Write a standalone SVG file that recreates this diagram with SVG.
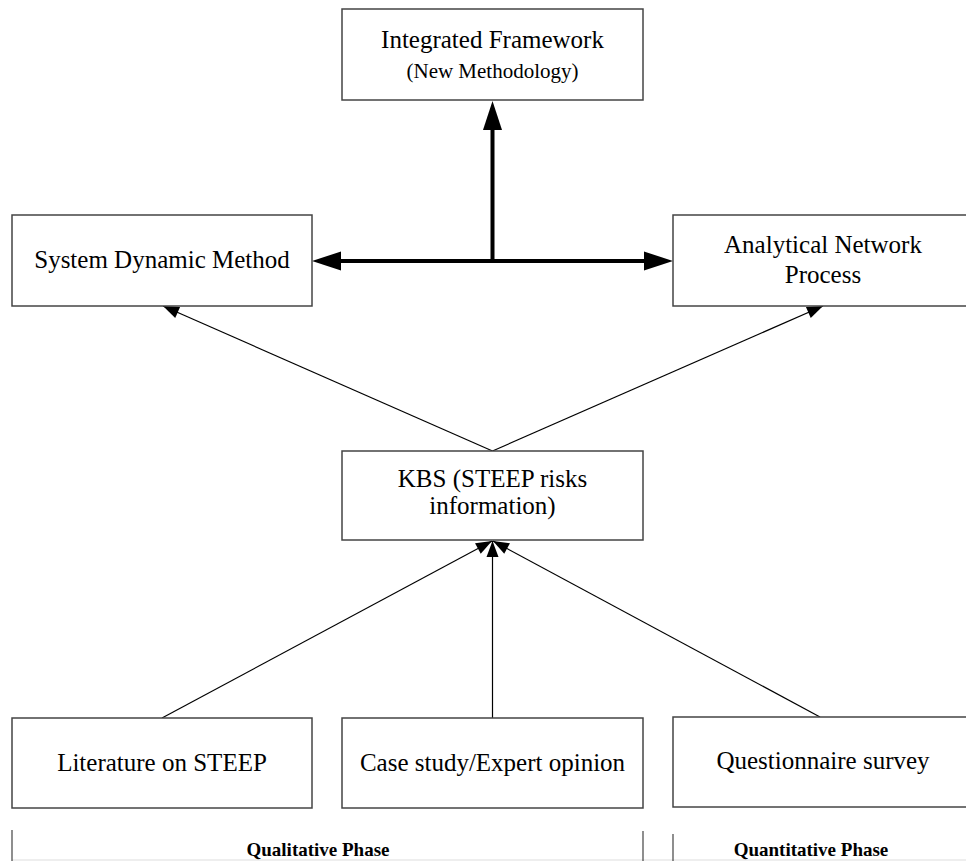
<svg xmlns="http://www.w3.org/2000/svg" width="966" height="861" viewBox="0 0 966 861">
<style>
.box{fill:#fff;stroke:#444;stroke-width:1.5}
.t{font-family:"Liberation Serif","Times New Roman",serif;font-size:25px;fill:#000;text-anchor:middle}
.s{font-size:21px}
.ph{font-family:"Liberation Serif","Times New Roman",serif;font-size:19px;font-weight:bold;fill:#000;text-anchor:middle}
.thin{stroke:#000;stroke-width:1.2;fill:none}
.thick{stroke:#000;stroke-width:4;fill:none}
.sep{stroke:#444;stroke-width:1.2}
</style>
<defs>
<marker id="ah" markerUnits="userSpaceOnUse" markerWidth="18" markerHeight="12" refX="16" refY="6" orient="auto" overflow="visible">
<path d="M0,0 L16,6 L0,12 z" fill="#000"/>
</marker>
<marker id="bh" markerUnits="userSpaceOnUse" markerWidth="30" markerHeight="20" refX="0" refY="9.5" orient="auto-start-reverse" overflow="visible">
<path d="M0,0 L29,9.5 L0,19 z" fill="#000"/>
</marker>
</defs>
<rect x="0" y="0" width="966" height="861" fill="#fff"/>

<g id="connectors">
<line class="thick" x1="492.5" y1="261" x2="492.5" y2="130" marker-end="url(#bh)"/>
<line class="thick" x1="341" y1="261" x2="644" y2="261" marker-start="url(#bh)" marker-end="url(#bh)"/>
<line class="thin" x1="492.5" y1="451" x2="163" y2="306" marker-end="url(#ah)"/>
<line class="thin" x1="492.5" y1="451" x2="823" y2="306" marker-end="url(#ah)"/>
<line class="thin" x1="162" y1="718" x2="492" y2="541" marker-end="url(#ah)"/>
<line class="thin" x1="492.5" y1="718" x2="492.5" y2="541" marker-end="url(#ah)"/>
<line class="thin" x1="820" y1="717" x2="493" y2="541" marker-end="url(#ah)"/>
</g>

<g id="integrated">
<rect class="box" x="342" y="9" width="301" height="91"/>
<text class="t" x="492.5" y="48">Integrated Framework</text>
<text class="t s" x="492.5" y="78">(New Methodology)</text>
</g>

<g id="sdm">
<rect class="box" x="12" y="215" width="300" height="91"/>
<text class="t" x="162" y="268">System Dynamic Method</text>
</g>

<g id="anp">
<rect class="box" x="673" y="215" width="300" height="91"/>
<text class="t" x="823" y="253">Analytical Network</text>
<text class="t" x="823" y="283">Process</text>
</g>

<g id="kbs">
<rect class="box" x="342" y="451" width="301" height="89"/>
<text class="t" x="492.5" y="487">KBS (STEEP risks</text>
<text class="t" x="492.5" y="514">information)</text>
</g>

<g id="literature">
<rect class="box" x="12" y="718" width="300" height="90"/>
<text class="t" x="162" y="771">Literature on STEEP</text>
</g>

<g id="casestudy">
<rect class="box" x="342" y="718" width="301" height="90"/>
<text class="t" x="492.5" y="771">Case study/Expert opinion</text>
</g>

<g id="questionnaire">
<rect class="box" x="673" y="717" width="300" height="90"/>
<text class="t" x="823" y="769">Questionnaire survey</text>
</g>

<g id="phases">
<line x1="12" y1="860" x2="966" y2="860" stroke="#ddd" stroke-width="1"/>
<line class="sep" x1="12" y1="830" x2="12" y2="861"/>
<line class="sep" x1="643" y1="831" x2="643" y2="861"/>
<line class="sep" x1="673" y1="834" x2="673" y2="861"/>
<text class="ph" x="318" y="856">Qualitative Phase</text>
<text class="ph" x="811" y="856">Quantitative Phase</text>
</g>
</svg>
